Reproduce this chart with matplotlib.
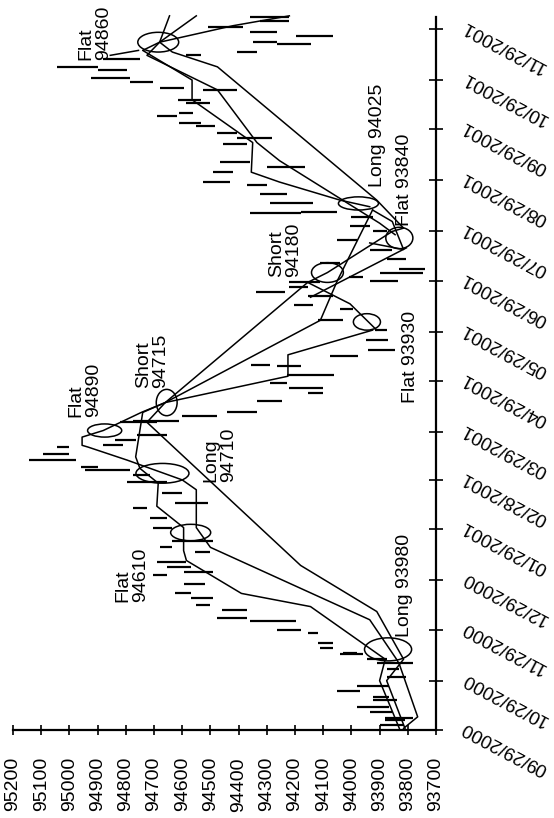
import numpy as np
import matplotlib
matplotlib.use("Agg")
import matplotlib.pyplot as plt
import matplotlib.dates as mdates
from matplotlib.patches import Ellipse

plt.rcParams["font.family"] = ["Liberation Sans", "DejaVu Sans"]

START = np.datetime64("2000-09-29")

# daily-ish price bars: day offset from START, high, low
bar_day = [3, 6, 7, 11, 14, 18, 20, 24, 27, 32, 37, 41, 43, 46, 47, 50, 53, 59,
           61, 66, 68, 73, 76, 80, 83, 89, 94, 96, 99, 102, 108, 111, 115, 123,
           129, 135, 138, 144, 151, 155, 158, 160, 164, 168, 172, 173, 176, 179,
           187, 188, 191, 193, 200, 205, 208, 211, 216, 221, 222, 227, 231, 237,
           243, 249, 256, 258, 264, 266, 269, 272, 273, 275, 278, 280, 284, 286,
           292, 298, 303, 306, 312, 314, 315, 320, 326, 331, 333, 339, 342, 345,
           356, 360, 363, 367, 369, 373, 375, 381, 383, 389, 390, 394, 396, 401,
           403, 408, 410, 412, 417, 418, 422, 424, 427, 431, 433]
bar_high = [93900, 93880, 93880, 93935, 93980, 93925, 93925, 94050, 93980, 93875,
            93875, 93910, 93945, 94040, 94030, 94110, 94120, 94155, 94265, 94360,
            94475, 94460, 94550, 94570, 94625, 94595, 94705, 94595, 94655, 94690,
            94555, 94680, 94635, 94705, 94715, 94775, 94625, 94670, 94795, 94775,
            94945, 94960, 95145, 95095, 95045, 94880, 94840, 94760, 94820, 94775,
            94600, 94440, 94335, 94155, 94220, 94290, 94230, 94265, 94355, 94075,
            93940, 93950, 93915, 94120, 94040, 94205, 94155, 94340, 94220, 94220,
            93935, 94010, 93900, 93830, 94110, 93875, 93935, 94050, 93925, 94005,
            94000, 94360, 94180, 94290, 94325, 94370, 94525, 94490, 94300, 94465,
            94455, 94405, 94475, 94550, 94610, 94690, 94610, 94585, 94615, 94525,
            94680, 94785, 94925, 94900, 95045, 94880, 94585, 94405, 94265, 94350,
            94195, 94360, 94510, 94325, 94360]
bar_low = [93815, 93810, 93780, 93855, 93865, 93840, 93865, 93970, 93865, 93805,
           93830, 93780, 93875, 93960, 93980, 94065, 94065, 94120, 94180, 94195,
           94370, 94370, 94500, 94490, 94570, 94520, 94655, 94490, 94570, 94585,
           94500, 94635, 94490, 94635, 94655, 94725, 94510, 94600, 94655, 94715,
           94785, 94900, 94975, 95000, 95000, 94810, 94765, 94655, 94690, 94610,
           94475, 94335, 94245, 94100, 94100, 94230, 94060, 94180, 94290, 93975,
           93845, 93870, 93875, 94030, 93995, 94135, 94065, 94235, 94155, 94110,
           93835, 93960, 93745, 93740, 94040, 93805, 93855, 93980, 93875, 93935,
           93925, 94180, 94050, 94135, 94230, 94300, 94430, 94420, 94165, 94360,
           94370, 94280, 94405, 94485, 94535, 94620, 94560, 94500, 94535, 94405,
           94595, 94705, 94785, 94795, 94900, 94750, 94535, 94335, 94145, 94265,
           94065, 94265, 94385, 94220, 94220]

# trend lines
line_a_day = [1, 30, 43, 75, 83, 103, 109, 123, 136, 150, 159, 166, 193, 199, 215, 228, 243]
line_a_price = [93830, 93900, 93880, 94145, 94390, 94585, 94595, 94595, 94690, 94685,
                94750, 94765, 94740, 94660, 94225, 94225, 93925]
line_b_day = [1, 8, 40, 43, 67, 111, 123, 146, 152, 164, 172, 173, 178, 182, 193, 199,
              249, 273, 316]
line_b_price = [93815, 93765, 93830, 93840, 93935, 94500, 94550, 94550, 94600, 94795,
                94935, 94955, 94955, 94880, 94745, 94660, 94110, 94050, 93925]
line_c_day = [1, 30, 43, 72, 100, 187, 199, 272, 278, 303, 305, 322, 403, 412, 418, 434]
line_c_price = [93810, 93875, 93815, 93910, 94180, 94725, 94660, 94155, 94085, 93855,
                93815, 93910, 94475, 94635, 94680, 94645]
line_d_day = [301, 308, 346, 357, 389, 410, 418, 434]
line_d_price = [93845, 93900, 94255, 94335, 94475, 94725, 94680, 94550]
line_e_day = [318, 322, 333, 339, 357, 383, 395, 413, 418, 428, 434]
line_e_price = [93935, 94040, 94255, 94355, 94350, 94565, 94565, 94740, 94680, 94420, 94220]
line_f_day = [272, 259, 243]
line_f_price = [94155, 94005, 93910]
line_g_day = [263, 293]
line_g_price = [94145, 93805]
line_h_day = [316, 309, 292, 296]
line_h_price = [93925, 93855, 93815, 93935]
line_i_day = [413, 410]
line_i_price = [94755, 94855]

# trade signals (circled)
signal_day = [49, 120, 156, 182, 199, 248, 278, 299, 320, 418]
signal_price = [93870, 94570, 94670, 94875, 94655, 93945, 94085, 93830, 93975, 94685]
signal_text = ["Long 93980", "Flat\n94610", "Long\n94710", "Flat\n94890", "Short\n94715",
               "Flat 93930", "Short\n94180", "Flat 93840", "Long 94025", "Flat\n94860"]

date_ticks = ["2000-09-29", "2000-10-29", "2000-11-29", "2000-12-29", "2001-01-29",
              "2001-02-28", "2001-03-29", "2001-04-29", "2001-05-29", "2001-06-29",
              "2001-07-29", "2001-08-29", "2001-09-29", "2001-10-29", "2001-11-29"]
date_labels = ["09/29/2000", "10/29/2000", "11/29/2000", "12/29/2000", "01/29/2001",
               "02/28/2001", "03/29/2001", "04/29/2001", "05/29/2001", "06/29/2001",
               "07/29/2001", "08/29/2001", "09/29/2001", "10/29/2001", "11/29/2001"]
price_ticks = list(range(93700, 95201, 100))

# layout / style (not data)
ell_w = [167, 142, 188, 121, 74, 96, 113, 96, 142, 145]
ell_h = [14, 10, 12, 8, 16, 10, 12, 13, 8, 12]
label_day = [56.5, 78, 151, 190, 208, 199, 275, 306, 330, 407]
label_price = [93810, 94778, 94466, 94945, 94707, 93792, 94235, 93810, 93906, 94909]

t0 = mdates.date2num(START)

fig = plt.figure(figsize=(5.54, 8.18), dpi=100)
ax = fig.add_axes([13 / 554, 88 / 818, 423 / 554, 713 / 818])

ax.hlines(t0 + np.array(bar_day), bar_low, bar_high, colors="black", lw=1.6,
          clip_on=False)

lines = [
    (line_a_day, line_a_price), (line_b_day, line_b_price),
    (line_c_day, line_c_price), (line_d_day, line_d_price),
    (line_e_day, line_e_price), (line_f_day, line_f_price),
    (line_g_day, line_g_price), (line_h_day, line_h_price),
    (line_i_day, line_i_price),
]
for days, prices in lines:
    ax.plot(prices, t0 + np.array(days), color="black", lw=1.1, clip_on=False)

for d, p, w, h in zip(signal_day, signal_price, ell_w, ell_h):
    ax.add_patch(Ellipse((p, t0 + d), w, h, fill=False, ec="black", lw=1.1,
                         clip_on=False))

for d, p, s in zip(label_day, label_price, signal_text):
    ax.text(p, t0 + d, s, rotation=90, rotation_mode="anchor", ha="left",
            va="center", fontsize=14, linespacing=1.05)

# Aesthetics
ax.set_xlim(95200, 93700)
ax.set_ylim(t0, t0 + 433.3)
for side in ["top", "left"]:
    ax.spines[side].set_visible(False)
for side in ["bottom", "right"]:
    ax.spines[side].set_linewidth(1.6)

ax.set_xticks(price_ticks)
ax.set_xticklabels([str(p) for p in price_ticks], rotation=90, fontsize=14)
ax.tick_params(axis="x", direction="inout", length=7, width=1.2, pad=16)

tick_pos = mdates.date2num(np.array(date_ticks, dtype="datetime64[D]"))
ax.yaxis.tick_right()
ax.set_yticks(tick_pos)
ax.set_yticklabels([])
ax.tick_params(axis="y", direction="inout", length=10, width=1.2)
for y, lab in zip(tick_pos, date_labels):
    ax.annotate(lab, xy=(1, y), xycoords=ax.get_yaxis_transform(),
                xytext=(21, 6), textcoords="offset points", rotation=152,
                rotation_mode="anchor", ha="right", va="baseline", fontsize=13.5,
                annotation_clip=False)

fig.savefig("out.png", dpi=100)
